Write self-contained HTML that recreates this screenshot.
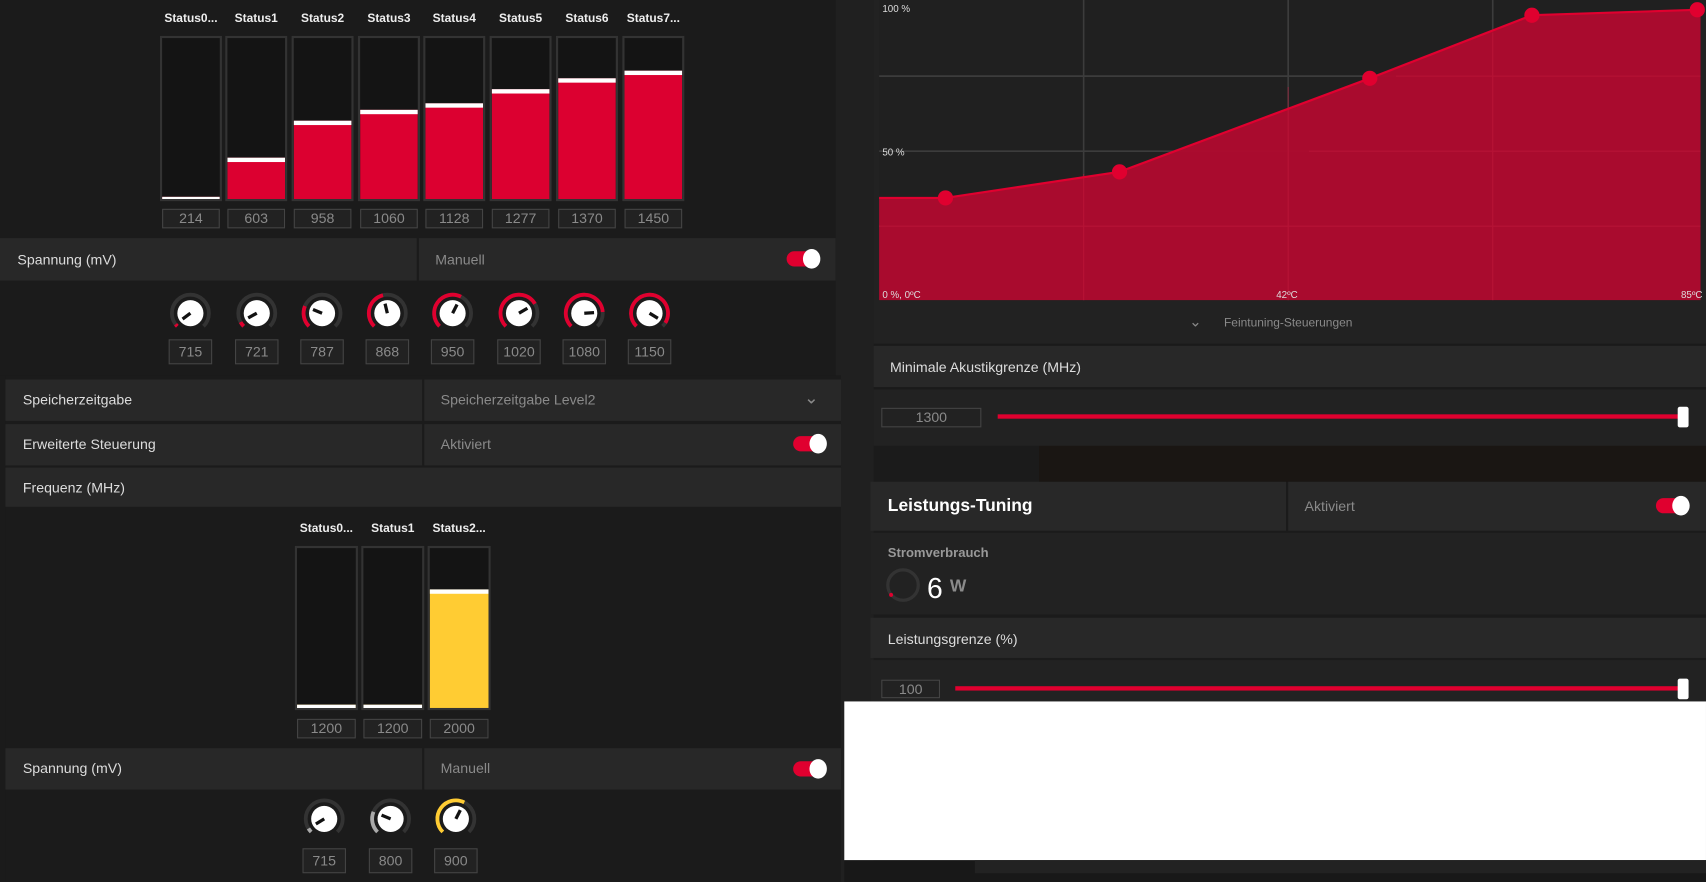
<!DOCTYPE html>
<html><head><meta charset="utf-8"><style>
html,body{margin:0;padding:0;background:#1b1b1b;width:1706px;height:882px;overflow:hidden}
#w{position:absolute;left:0;top:0;width:1568px;height:811px;transform:scale(1.088,1.0875);transform-origin:0 0;font-family:"Liberation Sans",sans-serif}
.a{position:absolute}
.t{position:absolute;color:#ddd;font-size:13px;white-space:nowrap}
.g{color:#8a8a8a}
.box{position:absolute;border:1px solid #444;background:#222;color:#8a8a8a;font-size:13px;text-align:center;box-sizing:border-box}
.row{position:absolute;background:#282828}
.tog{position:absolute;width:30px;height:14px;border-radius:7px;background:#e0002f}
.tog:after{content:"";position:absolute;right:-1px;top:-2px;width:16px;height:18px;border-radius:50%;background:#fff}
.bar{position:absolute;border:2px solid #333;background:#141414;box-sizing:border-box;overflow:hidden}
.lbl{position:absolute;color:#eee;font-size:11px;text-align:center;font-weight:bold}
</style></head><body><div id="w">
<div class="a" style="left:0;top:0;width:768px;height:345px;background:#1b1b1b"></div>
<div class="a" style="left:768px;top:0;width:35px;height:811px;background:#202020"></div>
<div class="a" style="left:5px;top:345px;width:768px;height:466px;background:#1b1b1b"></div>
<div id="L"></div>
<div class="row" style="left:0;top:219px;width:383px;height:39px"></div>
<div class="row" style="left:385px;top:219px;width:383px;height:39px"></div>
<div class="t" style="left:16px;top:231px">Spannung (mV)</div>
<div class="t g" style="left:400px;top:231px">Manuell</div>
<div class="tog" style="left:723px;top:231px"></div>
<div class="row" style="left:5px;top:349px;width:383px;height:38px"></div>
<div class="row" style="left:390px;top:349px;width:383px;height:38px"></div>
<div class="t" style="left:21px;top:360px">Speicherzeitgabe</div>
<div class="t g" style="left:405px;top:360px">Speicherzeitgabe Level2</div>
<div class="t g" style="left:739px;top:356px;font-size:16px">&#8964;</div>
<div class="row" style="left:5px;top:390px;width:383px;height:38px"></div>
<div class="row" style="left:390px;top:390px;width:383px;height:38px"></div>
<div class="t" style="left:21px;top:401px">Erweiterte Steuerung</div>
<div class="t g" style="left:405px;top:401px">Aktiviert</div>
<div class="tog" style="left:729px;top:401px"></div>
<div class="row" style="left:5px;top:430px;width:768px;height:36px"></div>
<div class="t" style="left:21px;top:441px">Frequenz (MHz)</div>
<div class="row" style="left:5px;top:688px;width:383px;height:38px"></div>
<div class="row" style="left:390px;top:688px;width:383px;height:38px"></div>
<div class="t" style="left:21px;top:699px">Spannung (mV)</div>
<div class="t g" style="left:405px;top:699px">Manuell</div>
<div class="tog" style="left:729px;top:700px"></div>

<!-- right -->
<div class="a" style="left:803px;top:0;width:765px;height:410px;background:#222"></div>
<svg class="a" style="left:803px;top:0" width="765" height="280">
<rect x="5" y="0" width="755" height="276" fill="#202020"/>
<g stroke="#3c3c3c" stroke-width="1.5">
<line x1="193" y1="0" x2="193" y2="276"/><line x1="381" y1="0" x2="381" y2="276"/><line x1="569" y1="0" x2="569" y2="276"/>
<line x1="5" y1="70" x2="760" y2="70"/><line x1="5" y1="139" x2="760" y2="139"/><line x1="5" y1="208" x2="760" y2="208"/></g>
<polygon points="5,182 66,182 226,158 456,72 605,14 757,9 760,9 760,276 5,276" fill="#ad0a2e" fill-opacity="0.97"/>
<g stroke="#c21a3c" stroke-width="1" opacity=".5"><line x1="193" y1="160" x2="193" y2="276"/><line x1="381" y1="80" x2="381" y2="276"/><line x1="569" y1="30" x2="569" y2="276"/><line x1="5" y1="208" x2="760" y2="208"/><line x1="400" y1="139" x2="760" y2="139"/><line x1="480" y1="70" x2="760" y2="70"/></g>
<polyline points="5,182 66,182 226,158 456,72 605,14 757,9" fill="none" stroke="#e0002f" stroke-width="2"/>
<g fill="#e0002f"><circle cx="66" cy="182" r="7"/><circle cx="226" cy="158" r="7"/><circle cx="456" cy="72" r="7"/><circle cx="605" cy="14" r="7"/><circle cx="757" cy="9" r="7"/></g>
<g fill="#ddd" font-size="9" font-family="Liberation Sans"><text x="8" y="11">100 %</text><text x="8" y="143">50 %</text><text x="8" y="274">0 %, 0ºC</text><text x="370" y="274">42ºC</text><text x="742" y="274">85ºC</text></g>
</svg>
<div class="t g" style="left:1093px;top:287px;font-size:14px">&#8964;</div>
<div class="t g" style="left:1125px;top:291px;font-size:11px">Feintuning-Steuerungen</div>
<div class="a" style="left:803px;top:316px;width:765px;height:2px;background:#1a1a1a"></div>
<div class="row" style="left:803px;top:318px;width:765px;height:38px"></div>
<div class="t" style="left:818px;top:330px">Minimale Akustikgrenze (MHz)</div>
<div class="a" style="left:803px;top:356px;width:765px;height:2px;background:#1a1a1a"></div>
<div class="box" style="left:810px;top:375px;width:92px;height:18px;line-height:16px">1300</div>
<div class="a" style="left:917px;top:381px;width:628px;height:4px;background:#e0002f"></div>
<div class="a" style="left:1542px;top:374px;width:10px;height:19px;background:#fff;border-radius:2px"></div>
<div class="a" style="left:955px;top:410px;width:613px;height:33px;background:#1a1613"></div>
<div class="row" style="left:800px;top:443px;width:382px;height:45px"></div>
<div class="row" style="left:1184px;top:443px;width:384px;height:45px"></div>
<div class="t" style="left:816px;top:457px;font-size:16px;font-weight:bold;color:#fff">Leistungs-Tuning</div>
<div class="t g" style="left:1199px;top:458px">Aktiviert</div>
<div class="tog" style="left:1522px;top:458px"></div>
<div class="a" style="left:800px;top:490px;width:768px;height:75px;background:#222"></div>
<div class="t" style="left:816px;top:501px;font-size:12px;font-weight:bold;color:#999">Stromverbrauch</div>
<svg class="a" style="left:814px;top:522px" width="34" height="34"><circle cx="16" cy="16" r="14" fill="none" stroke="#333" stroke-width="3"/><circle cx="5" cy="25" r="1.8" fill="#e0002f"/></svg>
<div class="t" style="left:852px;top:526px;font-size:26px;color:#fff">6</div>
<div class="t g" style="left:873px;top:531px;font-size:16px;font-weight:bold">W</div>
<div class="row" style="left:800px;top:568px;width:768px;height:37px"></div>
<div class="t" style="left:816px;top:580px">Leistungsgrenze (%)</div>
<div class="a" style="left:800px;top:607px;width:768px;height:38px;background:#222"></div>
<div class="box" style="left:810px;top:625px;width:54px;height:17px;line-height:15px">100</div>
<div class="a" style="left:878px;top:631px;width:667px;height:4px;background:#e0002f"></div>
<div class="a" style="left:1542px;top:624px;width:10px;height:19px;background:#fff;border-radius:2px"></div>
<div class="a" style="left:776px;top:645px;width:792px;height:146px;background:#fff"></div>
<div class="a" style="left:776px;top:791px;width:792px;height:20px;background:#181818"></div>
<div class="a" style="left:896px;top:791px;width:672px;height:12px;background:#222"></div>
</div>
<script>
var L=document.getElementById('L'),h='';
function bars(xs,w,top,bot,vals,labs,fills,col,ly,vy){
 xs.forEach(function(x,i){
  h+='<div class="lbl" style="left:'+(x-10)+'px;top:'+ly+'px;width:'+(w+20)+'px">'+labs[i]+'</div>';
  var f=fills[i];
  h+='<div class="bar" style="left:'+x+'px;top:'+top+'px;width:'+w+'px;height:'+(bot-top)+'px">'+
   '<div class="a" style="left:0;right:0;top:'+(f-top-2)+'px;bottom:0;background:'+col+';border-top:4px solid #fff"></div></div>';
  h+='<div class="box" style="left:'+(x+2)+'px;top:'+vy+'px;width:'+(w-4)+'px;height:18px;line-height:16px">'+vals[i]+'</div>';
 });
}
bars([147,207,268,329,389,450,511,572],57,33,185,[214,603,958,1060,1128,1277,1370,1450],
 ['Status0...','Status1','Status2','Status3','Status4','Status5','Status6','Status7...'],
 [181,145,111,101,95,82,72,65],'#dc0030',11,192);
bars([271,332,393],58,502,653,[1200,1200,2000],['Status0...','Status1','Status2...'],[648,648,542],'#ffcc33',480,661);
function knob(cx,cy,f,col,val,by){
 var r=17,a0=-135,a1=-135+270*f;
 function p(a){var t=(a-90)*Math.PI/180;return [r*Math.cos(t)+20,r*Math.sin(t)+20];}
 var s=p(a0),e=p(a1),big=(a1-a0)>180?1:0;
 var n=(a1-90)*Math.PI/180;
 h+='<svg class="a" style="left:'+(cx-20)+'px;top:'+(cy-20)+'px" width="40" height="40">'+
 '<path d="M'+s[0]+' '+s[1]+' A17 17 0 1 1 '+p(135)[0]+' '+p(135)[1]+'" fill="none" stroke="#333" stroke-width="3.5"/>'+
 (f>0.01?'<path d="M'+s[0]+' '+s[1]+' A17 17 0 '+big+' 1 '+e[0]+' '+e[1]+'" fill="none" stroke="'+col+'" stroke-width="3.5"/>':'')+
 '<circle cx="20" cy="20" r="12" fill="#fff"/>'+
 '<line x1="20" y1="20" x2="'+(20+9*Math.cos(n))+'" y2="'+(20+9*Math.sin(n))+'" stroke="#111" stroke-width="3"/></svg>';
 h+='<div class="box" style="left:'+(cx-20)+'px;top:'+by+'px;width:40px;height:23px;line-height:21px">'+val+'</div>';
}
[[175,.03,715],[236,.06,721],[296,.25,787],[356,.45,868],[416,.6,950],[477,.72,1020],[537,.82,1080],[597,.95,1150]].forEach(function(k){knob(k[0],288,k[1],'#e0002f',k[2],312);});
knob(298,753,.05,'#aaa',715,780);knob(359,753,.25,'#aaa',800,780);knob(419,753,.6,'#ffcc33',900,780);
L.innerHTML=h;
</script>
</body></html>
